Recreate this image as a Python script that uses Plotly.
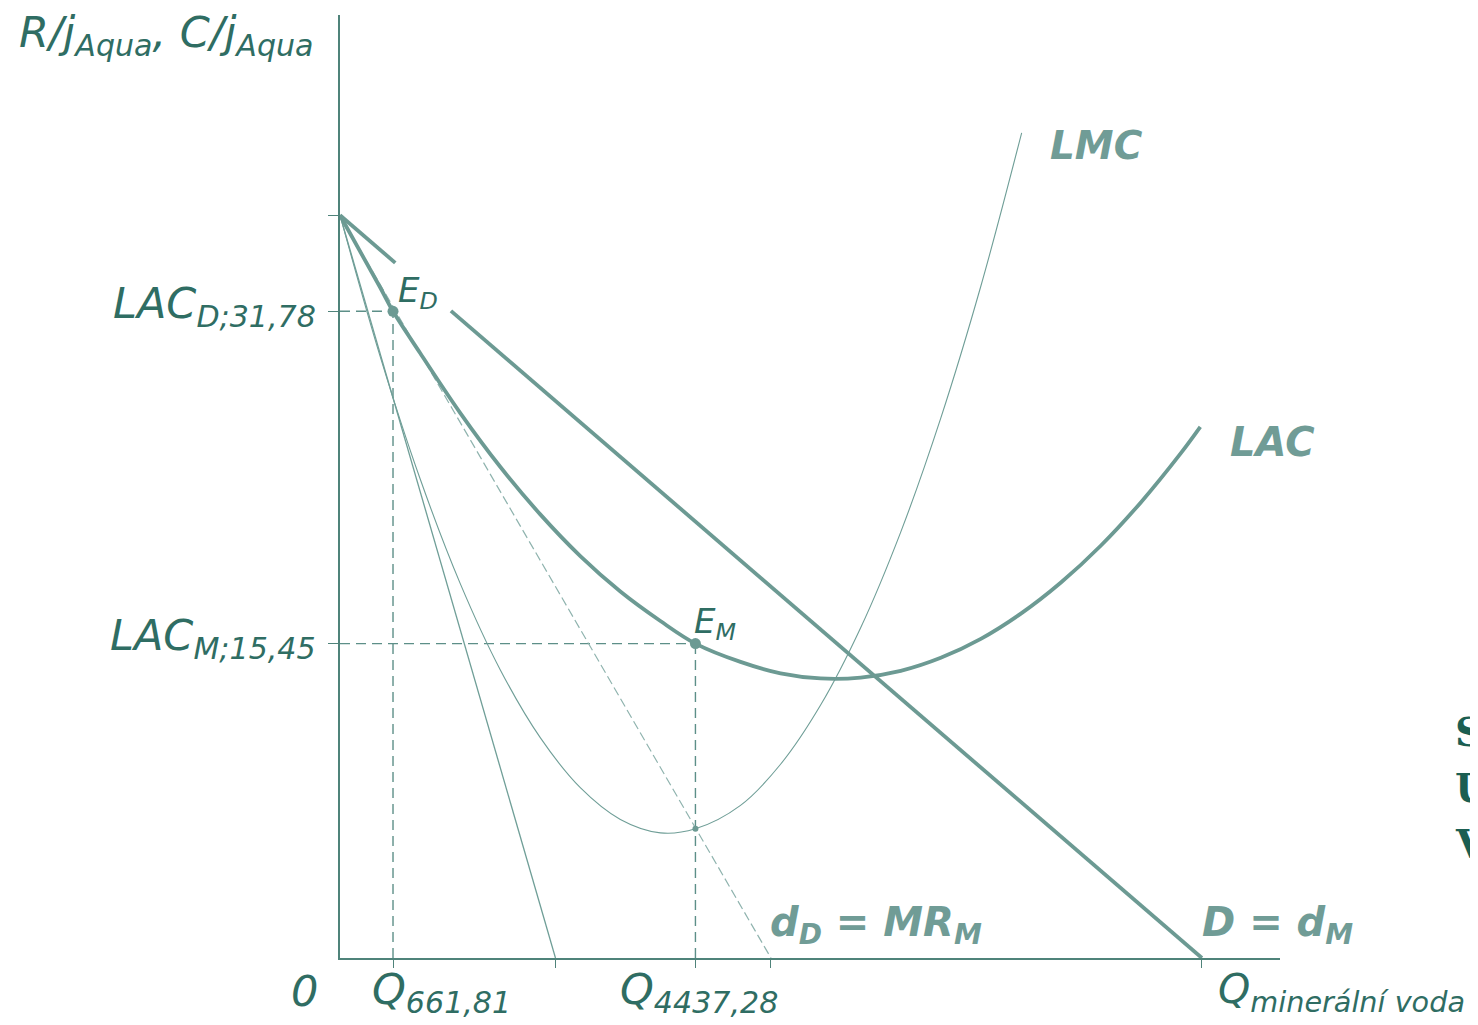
import plotly.graph_objects as go

# ---------------- data (Q in units of mineral water, P in CZK per unit) ----------------
P_MAX = 36.5                 # common price intercept of D, d_D, MR_D, LAC, LMC
Q_DEMAND_END = 10760         # D = d_M hits Q axis
Q_DD_END = 5380              # d_D = MR_M hits Q axis
Q_MRD_END = 2690             # MR of d_D hits Q axis

Q_ED, P_ED = 661.81, 31.78   # E_D
Q_EM, P_EM = 4437.28, 15.45  # E_M
P_MC_EM = 6.35               # LMC = MR_M at Q_EM

# demand D = d_M (drawn with a gap behind the E_D label)
D_Q = [0, 690, None, 1385, 10760]
D_P = [36.5, 34.16, None, 31.80, 0]

# d_D = MR_M
DD_Q = [0, 5380]
DD_P = [36.5, 0]

# MR_D
MRD_Q = [0, 2690]
MRD_P = [36.5, 0]

# LAC
LAC_Q = [0, 500, 661.81, 1000, 1500, 2000, 2500, 3000, 3500, 4000, 4437.28, 5000, 5500,
         6000, 6500, 7000, 7500, 8000, 8500, 9000, 9500, 10000, 10500, 10740]
LAC_P = [36.5, 32.96, 31.78, 29.73, 26.79, 24.14, 21.80, 19.75, 18.01, 16.56, 15.45, 14.55, 13.99,
         13.74, 13.78, 14.11, 14.75, 15.68, 16.92, 18.45, 20.27, 22.40, 24.82, 26.10]

# LMC
LMC_Q = [0, 500, 1000, 1500, 2000, 2500, 3000, 3500, 4000, 4437.28, 5000, 5500, 6000,
         6500, 7000, 7500, 8000, 8510]
LMC_P = [36.5, 29.58, 23.55, 18.41, 14.17, 10.83, 8.37, 6.81, 6.15, 6.35, 7.50, 9.52, 12.43,
         16.23, 20.93, 26.53, 33.01, 40.55]

X_TICKS = [661.81, 2690, 4437.28, 5380, 10760]
Y_TICKS = [15.45, 31.78, 36.5]

# ---------------- style ----------------
W, H = 1478, 1025
L, R, T, B = 332, 206, 7, 75      # page body has an 8px offset
X_RANGE = [0, 11735]
Y_RANGE = [0, 46.34]

C_AXIS = "#4f837a"
C_CURVE = "#6c9a93"
C_THIN = "#6f9e97"
C_TEXT = "#2f6d63"
C_BOLD = "#709c96"
FONT = "DejaVu Sans"

PLOT_LEFT, PLOT_BOTTOM = 340, 958   # page pixel positions of the plot corner
PLOT_W, PLOT_H = W - L - R, H - T - B


def px(x):
    return (x - PLOT_LEFT) / PLOT_W


def py(y):
    return (PLOT_BOTTOM - y) / PLOT_H


fig = go.Figure()

# guides
guide = dict(color="#5d8f88", width=1.4, dash="10px,6px")
fig.add_trace(go.Scatter(x=[0, Q_ED], y=[P_ED, P_ED], mode="lines", line=guide))
fig.add_trace(go.Scatter(x=[Q_ED, Q_ED], y=[0, P_ED], mode="lines", line=guide))
fig.add_trace(go.Scatter(x=[0, Q_EM], y=[P_EM, P_EM], mode="lines", line=guide))
fig.add_trace(go.Scatter(x=[Q_EM, Q_EM], y=[0, P_EM], mode="lines", line=guide))

# thin lines
fig.add_trace(go.Scatter(x=MRD_Q, y=MRD_P, mode="lines", line=dict(color=C_THIN, width=1.3)))
fig.add_trace(go.Scatter(x=DD_Q, y=DD_P, mode="lines",
                         line=dict(color="#8fb3ae", width=1.2, dash="9px,4px")))
fig.add_trace(go.Scatter(x=LMC_Q, y=LMC_P, mode="lines", line_shape="spline",
                         line=dict(color=C_THIN, width=1.1)))

# thick lines
fig.add_trace(go.Scatter(x=LAC_Q, y=LAC_P, mode="lines", line_shape="spline",
                         line=dict(color=C_CURVE, width=3.8)))
fig.add_trace(go.Scatter(x=D_Q, y=D_P, mode="lines", connectgaps=False,
                         line=dict(color=C_CURVE, width=3.8)))

# points
fig.add_trace(go.Scatter(x=[Q_ED, Q_EM], y=[P_ED, P_EM], mode="markers",
                         marker=dict(color=C_CURVE, size=11)))
fig.add_trace(go.Scatter(x=[Q_EM], y=[P_MC_EM], mode="markers",
                         marker=dict(color=C_CURVE, size=6)))

ann = []


def text(x, y, s, size, color=C_TEXT, xanchor="left", yanchor="middle", family=FONT):
    ann.append(dict(x=px(x), y=py(y), xref="paper", yref="paper", text=s, showarrow=False,
                    xanchor=xanchor, yanchor=yanchor,
                    font=dict(family=family, size=size, color=color)))


text(17, 35, "<i>R/j<sub>Aqua</sub>, C/j<sub>Aqua</sub></i>", 43)
text(318, 306, "<i>LAC<sub>D;31,78</sub></i>", 43, xanchor="right")
text(318, 638, "<i>LAC<sub>M;15,45</sub></i>", 43, xanchor="right")
text(396, 292, "<i>E<sub>D</sub></i>", 34)
text(692, 623, "<i>E<sub>M</sub></i>", 34)
text(304, 991, "<i>0</i>", 43, xanchor="center")
text(370, 992, "<i>Q<sub>661,81</sub></i>", 43)
text(618, 992, "<i>Q<sub>4437,28</sub></i>", 43)
text(1216, 992, "<i>Q<sub>minerální voda</sub></i>", 41)
text(1048, 145, "<b><i>LMC</i></b>", 39, color=C_BOLD)
text(1228, 442, "<b><i>LAC</i></b>", 40, color=C_BOLD)
text(768, 925, "<b><i>d<sub>D</sub> = MR<sub>M</sub></i></b>", 40, color=C_BOLD)
text(1200, 925, "<b><i>D = d<sub>M</sub></i></b>", 40, color=C_BOLD)
for ch, yy in zip(["S", "U", "V"], [731, 787, 843]):
    text(1453, yy, "<b>" + ch + "</b>", 40, color="#1b5e52", family="DejaVu Serif")

fig.update_layout(
    width=W, height=H,
    margin=dict(l=L, r=R, t=T, b=B),
    paper_bgcolor="white", plot_bgcolor="white",
    showlegend=False,
    annotations=ann,
    xaxis=dict(range=X_RANGE, showgrid=False, zeroline=False, showline=True,
               linecolor=C_AXIS, linewidth=1.5, ticks="outside", ticklen=8,
               tickcolor=C_AXIS, tickwidth=1.3, tickvals=X_TICKS, showticklabels=False),
    yaxis=dict(range=Y_RANGE, showgrid=False, zeroline=False, showline=True,
               linecolor=C_AXIS, linewidth=1.5, ticks="outside", ticklen=10,
               tickcolor=C_AXIS, tickwidth=1.3, tickvals=Y_TICKS, showticklabels=False),
)

fig.write_html("out.html")
